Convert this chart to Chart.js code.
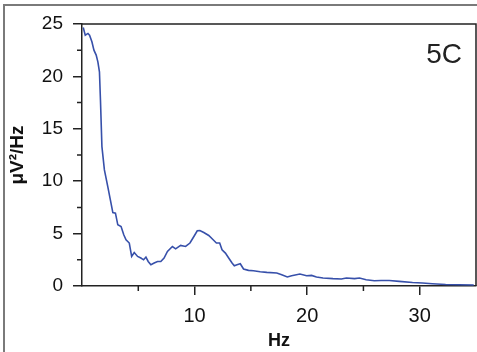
<!DOCTYPE html>
<html>
<head>
<meta charset="utf-8">
<script src="https://cdn.jsdelivr.net/npm/chart.js@4"></script>
<style>
  body { margin: 0; background: #fff; }
  #wrap { position: relative; width: 477px; height: 352px; }
  #frame { position: absolute; left: 3px; top: 4px; right: -10px; bottom: -10px;
           border-left: 2px solid #7a7a7a; border-top: 2px solid #7a7a7a; pointer-events: none; }
  canvas { position: absolute; left: 0; top: 0; }
</style>
</head>
<body>
<div id="wrap">
  <canvas id="spec" width="477" height="352"></canvas>
  <div id="frame"></div>
</div>
<script>
// frequency (Hz) and power (µV²/Hz)
const freqs = [0.11, 0.29, 0.53, 0.67, 0.88, 1.06, 1.26, 1.41, 1.55, 1.64, 1.77, 1.99, 2.29, 2.52, 2.74, 2.97,
  3.18, 3.47, 3.71, 3.91, 4.20, 4.41, 4.64, 4.94, 5.23, 5.47, 5.68, 5.88, 6.12, 6.41, 6.71, 7.00, 7.29, 7.59,
  8.03, 8.32, 8.76, 9.20, 9.59, 9.94, 10.24, 10.47, 10.82, 11.26, 11.65, 11.94, 12.23, 12.44, 12.74, 13.03,
  13.33, 13.53, 13.77, 14.06, 14.35, 14.79, 15.23, 15.83, 16.42, 17.30, 17.74, 18.24, 18.62, 19.36, 19.95,
  20.39, 20.83, 21.41, 22.29, 23.04, 23.48, 24.21, 24.65, 25.24, 25.97, 26.57, 27.30, 28.18, 29.36, 30.24,
  31.12, 32.30, 33.48, 34.80];
const power = [24.67, 23.93, 24.10, 23.93, 23.30, 22.50, 22.03, 21.39, 20.44, 17.74, 13.30, 11.08, 9.49, 8.22, 7.01, 6.95,
  5.84, 5.68, 4.89, 4.41, 4.10, 2.82, 3.20, 2.82, 2.67, 2.50, 2.76, 2.34, 2.03, 2.19, 2.34, 2.34, 2.67, 3.30,
  3.77, 3.55, 3.87, 3.77, 4.10, 4.72, 5.27, 5.30, 5.10, 4.82, 4.41, 4.10, 4.10, 3.46, 3.14, 2.67,
  2.19, 1.93, 2.03, 2.12, 1.62, 1.49, 1.46, 1.36, 1.30, 1.24, 1.08, 0.86, 0.98, 1.14, 0.98,
  1.01, 0.86, 0.76, 0.70, 0.67, 0.76, 0.70, 0.76, 0.60, 0.50, 0.53, 0.53, 0.44, 0.34, 0.29,
  0.22, 0.15, 0.12, 0.10];
const yMinorTicks = [2.5, 7.5, 12.5, 17.5, 22.5];
const xMinorTicks = [5, 15, 25];
const panelLabel = "5C";

const axisColor = '#222';
const fontFam = '"Liberation Sans", Arial, sans-serif';

// top/right box lines, minor ticks and the panel letter
const extras = {
  id: 'extras',
  afterDraw(chart) {
    const c = chart.ctx, a = chart.chartArea;
    const x = chart.scales.x, y = chart.scales.y;
    c.save();
    c.strokeStyle = axisColor;
    c.lineWidth = 1.5;
    c.beginPath();
    c.moveTo(a.left, a.top); c.lineTo(a.right, a.top); c.lineTo(a.right, a.bottom);
    yMinorTicks.forEach(v => { const p = y.getPixelForValue(v); c.moveTo(a.left - 5, p); c.lineTo(a.left, p); });
    xMinorTicks.forEach(v => { const p = x.getPixelForValue(v); c.moveTo(p, a.bottom); c.lineTo(p, a.bottom + 5); });
    c.stroke();
    c.fillStyle = '#222';
    c.font = '28px ' + fontFam;
    c.textAlign = 'right';
    c.textBaseline = 'alphabetic';
    c.fillText(panelLabel, a.right - 14, 63);
    c.restore();
  }
};

new Chart(document.getElementById('spec'), {
  type: 'line',
  data: {
    datasets: [{
      data: freqs.map((f, i) => ({ x: f, y: power[i] })),
      borderColor: 'rgb(55, 80, 170)',
      borderWidth: 1.6,
      pointRadius: 0,
      tension: 0,
      fill: false
    }]
  },
  options: {
    responsive: false,
    animation: false,
    layout: { padding: { top: 24, right: 1, left: 0, bottom: 0 } },
    plugins: { legend: { display: false }, tooltip: { enabled: false } },
    scales: {
      x: {
        type: 'linear', min: 0, max: 35,
        afterFit: s => { s.height = 66; },
        border: { color: axisColor, width: 1.5 },
        grid: { drawOnChartArea: false, tickLength: 9, lineWidth: 1.5,
                tickColor: ctx => (ctx.tick && ctx.tick.value === 0) ? 'rgba(0,0,0,0)' : axisColor },
        ticks: { stepSize: 10, includeBounds: false, padding: 9, color: '#111',
                 font: { family: fontFam, size: 20 },
                 callback: v => v === 0 ? '' : v },
        title: { display: true, text: 'Hz', color: '#111', padding: { top: 0, bottom: 0 },
                 font: { family: fontFam, size: 18, weight: 'bold' } }
      },
      y: {
        min: 0, max: 25,
        afterFit: s => { s.width = 82; },
        border: { color: axisColor, width: 1.5 },
        grid: { drawOnChartArea: false, tickLength: 9, lineWidth: 1.5, tickColor: axisColor },
        ticks: { stepSize: 5, padding: 10, color: '#111',
                 font: { family: fontFam, size: 19 } },
        title: { display: true, text: 'μV²/Hz', color: '#111', padding: { top: 6, bottom: 0 },
                 font: { family: fontFam, size: 19, weight: 'bold' } }
      }
    }
  },
  plugins: [extras]
});
</script>
</body>
</html>
